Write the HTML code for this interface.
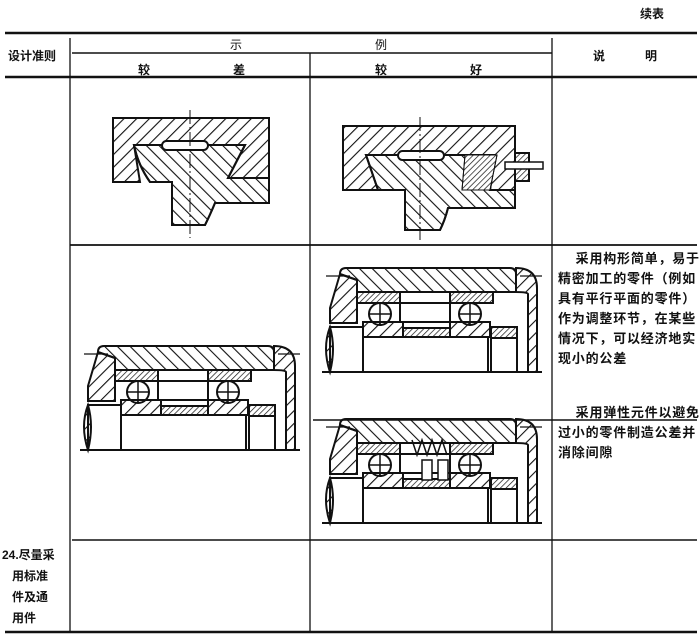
<!DOCTYPE html>
<html><head><meta charset="utf-8"><style>
html,body{margin:0;padding:0;background:#fff}
body{width:700px;height:641px;position:relative;overflow:hidden;font-family:"Liberation Sans","Noto Sans CJK SC",sans-serif;color:#111}
.t{position:absolute;font-size:12px;font-weight:bold;white-space:nowrap}
.p{position:absolute;font-size:13px;font-weight:bold;line-height:20px;left:558px;white-space:nowrap;letter-spacing:0.8px}
</style></head><body>
<svg width="700" height="641" style="position:absolute;left:0;top:0">
<defs>
<pattern id="h" width="9" height="9" patternUnits="userSpaceOnUse" patternTransform="rotate(45)"><line x1="0" y1="0" x2="0" y2="9" stroke="#111" stroke-width="2.2"/></pattern>
<pattern id="h2" width="9" height="9" patternUnits="userSpaceOnUse" patternTransform="rotate(-45)"><line x1="0" y1="0" x2="0" y2="9" stroke="#111" stroke-width="2.2"/></pattern>
<pattern id="hs" width="4" height="4" patternUnits="userSpaceOnUse" patternTransform="rotate(45)"><line x1="0" y1="0" x2="0" y2="4" stroke="#111" stroke-width="1.4"/></pattern>
<g id="brg" stroke="#111" stroke-width="2">
 <path d="M20 6 Q20 0 26 0 L190 0 Q196 0 196 6 L196 24 L37 24 L37 12 Z" fill="url(#h2)"/>
 <path d="M20 6 L10 40 L10 55 L37 55 L37 12 Z" fill="url(#h)"/>
 <path d="M196 0 Q217 0 217 20 L217 104 L208 104 L208 26 Q208 24 196 24 Z" fill="url(#h)"/>
 <rect x="37" y="24" width="43" height="11" fill="url(#hs)"/>
 <rect x="130" y="24" width="43" height="11" fill="url(#hs)"/>
 <rect x="80" y="35" width="50" height="19" fill="#fff"/>
 <circle cx="60" cy="46" r="11" fill="#fff"/><path d="M49 46H71M60 35V57" stroke-width="1.5"/>
 <circle cx="150" cy="46" r="11" fill="#fff"/><path d="M139 46H161M150 35V57" stroke-width="1.5"/>
 <rect x="43" y="54" width="40" height="15" fill="url(#h)"/>
 <rect x="83" y="60" width="47" height="9" fill="url(#hs)"/>
 <rect x="130" y="54" width="40" height="15" fill="url(#h)"/>
 <rect x="43" y="69" width="125" height="35" fill="#fff"/>
 <rect x="10" y="59" width="33" height="45" fill="#fff"/>
 <path d="M10 59 Q2 80 10 104 Q16 80 10 59Z" fill="url(#h)"/>
 <rect x="171" y="59" width="26" height="11" fill="url(#hs)"/>
 <rect x="171" y="70" width="26" height="34" fill="#fff"/>
 <path d="M2 104H222" stroke-width="2"/>
 <path d="M6 8H30M200 8H222" stroke-width="1.2"/>
</g>
</defs>
<g stroke="#111" fill="none">
 <path d="M5 33H697" stroke-width="2.5"/>
 <path d="M72 53H552" stroke-width="1.5"/>
 <path d="M5 77H697" stroke-width="2.5"/>
 <path d="M70 38V632M310 53V632M552 38V632" stroke-width="1.3"/>
 <path d="M70 245H697" stroke-width="1.8"/>
 <path d="M313 420H697" stroke-width="1.5"/>
 <path d="M72 540H697" stroke-width="1.5"/>
 <path d="M5 632H697" stroke-width="2.5"/>
</g>
<!-- drawing 1 -->
<g stroke="#111" stroke-width="2">
 <path d="M113 118H269V178H228L245 145H134L140 182H113Z" fill="url(#h)"/>
 <path d="M134 145H245L228 178H269V203H215Q210 215 205 225H172V182L150 182Q138 165 134 145Z" fill="#fff"/>
 <path d="M134 145H245L228 178H269V203H215Q210 215 205 225H172V182L150 182Q138 165 134 145Z" fill="url(#h2)"/>
 <rect x="162" y="141" width="46" height="9" rx="4.5" fill="#fff"/>
 <path d="M190 110V238" stroke-width="1" stroke-dasharray="14 3 2 3"/>
</g>
<!-- drawing 2 -->
<g stroke="#111" stroke-width="2">
 <path d="M343 126H515V190H343Z" fill="url(#h)"/>
 <path d="M366 155H495L490 190H515V208H448Q445 220 440 230H405V190H378Z" fill="#fff"/>
 <path d="M366 155H495L490 190H515V208H448Q445 220 440 230H405V190H378Z" fill="url(#h2)"/>
 <path d="M465 155H497L490 190H462Z" fill="#fff" stroke-width="1"/>
 <path d="M465 155H497L490 190H462Z" fill="url(#hs)" stroke-width="1"/>
 <rect x="398" y="151" width="46" height="9" rx="4.5" fill="#fff"/>
 <rect x="515" y="153" width="14" height="28" fill="url(#hs)"/>
 <rect x="505" y="162" width="38" height="7" fill="#fff" stroke-width="1.5"/>
 <path d="M420 117V240" stroke-width="1" stroke-dasharray="14 3 2 3"/>
</g>
<use href="#brg" x="78" y="346"/>
<use href="#brg" x="320" y="268"/>
<use href="#brg" x="320" y="419"/>
<g stroke="#111" stroke-width="1.5"><rect x="422" y="460" width="10" height="20" fill="#fff"/><rect x="438" y="460" width="10" height="20" fill="#fff"/><path d="M412 440l5 15 5-15 5 15 5-15 5 15 5-15 5 15" fill="none"/></g>
</svg>
<div class="t" style="left:640px;top:5px">续表</div>
<div class="t" style="left:8px;top:47px">设计准则</div>
<div class="t" style="left:230px;top:36px;font-weight:normal">示</div>
<div class="t" style="left:375px;top:36px;font-weight:normal">例</div>
<div class="t" style="left:138px;top:61px">较</div>
<div class="t" style="left:233px;top:61px">差</div>
<div class="t" style="left:375px;top:61px">较</div>
<div class="t" style="left:470px;top:61px">好</div>
<div class="t" style="left:593px;top:47px">说</div>
<div class="t" style="left:645px;top:47px">明</div>
<div class="p" style="top:249px">&nbsp;&nbsp;&nbsp;&nbsp;采用构形简单，易于<br>精密加工的零件（例如<br>具有平行平面的零件）<br>作为调整环节，在某些<br>情况下，可以经济地实<br>现小的公差</div>
<div class="p" style="top:403px">&nbsp;&nbsp;&nbsp;&nbsp;采用弹性元件以避免<br>过小的零件制造公差并<br>消除间隙</div>
<div class="t" style="left:2px;top:545px;line-height:21px;white-space:normal;width:64px">24.尽量采<br>&nbsp;&nbsp;&nbsp;用标准<br>&nbsp;&nbsp;&nbsp;件及通<br>&nbsp;&nbsp;&nbsp;用件</div>
</body></html>
